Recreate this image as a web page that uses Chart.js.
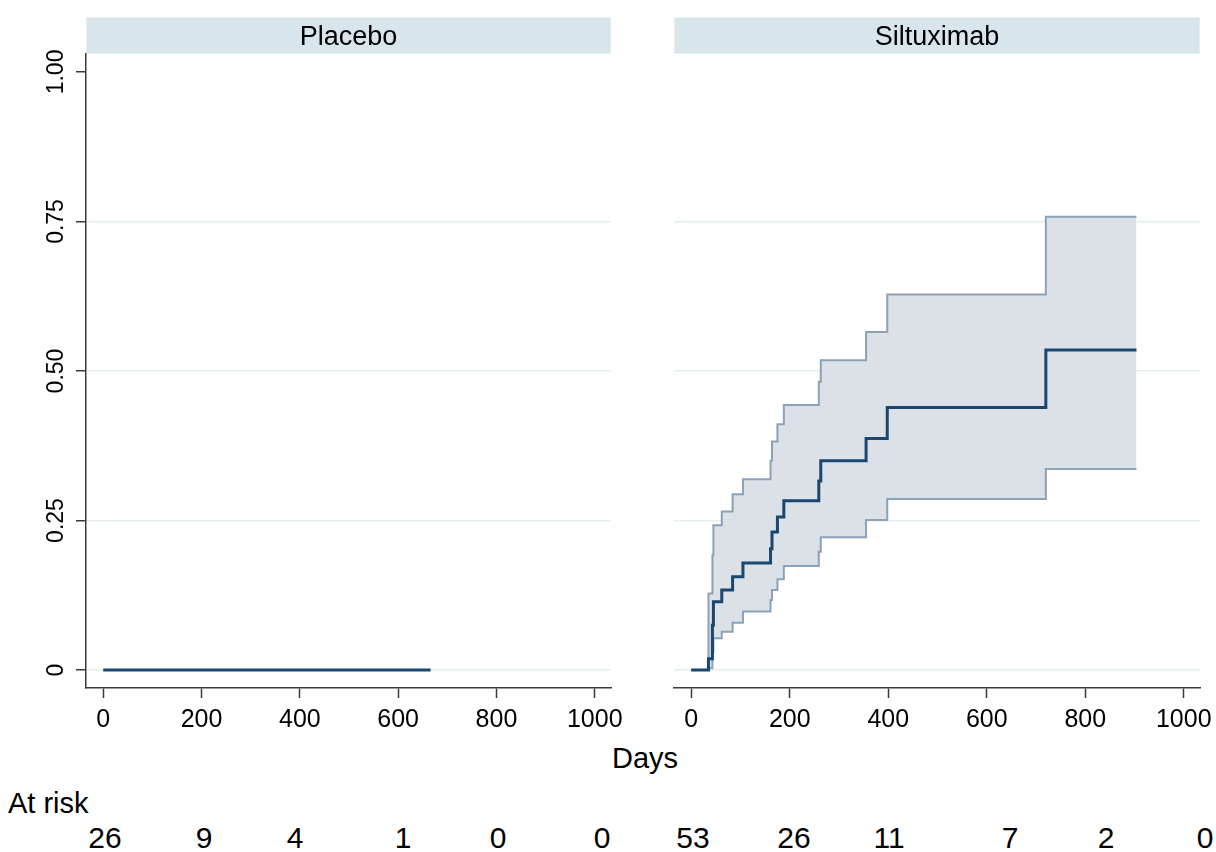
<!DOCTYPE html>
<html>
<head>
<meta charset="utf-8">
<script src="https://cdn.jsdelivr.net/npm/chart.js@4/dist/chart.umd.min.js"></script>
<style>
  html, body { margin: 0; padding: 0; background: #fff; }
  #page { position: relative; width: 1216px; height: 852px; overflow: hidden; font-family: "Liberation Sans", Arial, sans-serif; color: #000; }
  canvas { position: absolute; top: 0; }
  .txt { position: absolute; white-space: nowrap; line-height: 1; }
</style>
</head>
<body>
<div id="page">
  <canvas id="placebo" width="650" height="740" style="left:0"></canvas>
  <canvas id="siltuximab" width="600" height="740" style="left:640px"></canvas>
  <div id="overlay"></div>
</div>
<script>
// Kaplan-Meier failure estimates (time in days)
const panelTitles = ['Placebo', 'Siltuximab'];

const placeboDays = [0, 666];
const placeboFailure = [0, 0];

const siltuximabDays    = [0, 35, 43, 45, 62, 84, 105, 161, 164, 175, 188, 259, 263, 355, 398, 720, 904];
const siltuximabFailure = [0, 0.019, 0.075, 0.114, 0.134, 0.156, 0.179, 0.203, 0.231, 0.256, 0.283, 0.316, 0.350, 0.387, 0.439, 0.535, 0.535];
const siltuximabUpper   = [0, 0.128, 0.192, 0.242, 0.265, 0.294, 0.319, 0.350, 0.382, 0.411, 0.443, 0.482, 0.518, 0.565, 0.628, 0.758, 0.758];
const siltuximabLower   = [0, 0.003, 0.030, 0.053, 0.064, 0.079, 0.098, 0.117, 0.134, 0.152, 0.174, 0.198, 0.222, 0.251, 0.286, 0.336, 0.336];

const xTicks = [0, 200, 400, 600, 800, 1000];
const yTicks = [0, 0.25, 0.5, 0.75, 1];
const yTickLabels = ['0', '0.25', '0.50', '0.75', '1.00'];

const atRiskPlacebo = [26, 9, 4, 1, 0, 0];
const atRiskSiltuximab = [53, 26, 11, 7, 2, 0];

// ---- styling / layout ----
const FONT = '"Liberation Sans", Arial, sans-serif';
const NAVY = '#1a476f';
const CI_LINE = '#8ba1b7';
const CI_FILL = '#dce1e8';
const GRID = '#e4edf0';
const AXIS = '#3a3a3a';
const STRIP_BG = '#d8e5ea';

const toXY = (xs, ys) => xs.map((x, i) => ({ x, y: ys[i] }));

// Facet header strip above each panel
const stripPlugin = {
  id: 'strip',
  beforeDraw(chart, args, opts) {
    const { ctx, chartArea } = chart;
    ctx.save();
    ctx.fillStyle = STRIP_BG;
    ctx.fillRect(chartArea.left, 17, chartArea.right - chartArea.left, 37);
    ctx.strokeStyle = '#e9f0f3';
    ctx.lineWidth = 1;
    ctx.strokeRect(chartArea.left + 0.5, 17.5, chartArea.right - chartArea.left - 1, 36);
    ctx.fillStyle = '#000';
    ctx.font = '27px ' + FONT;
    ctx.textAlign = 'center';
    ctx.textBaseline = 'alphabetic';
    ctx.fillText(opts.title, (chartArea.left + chartArea.right) / 2, 45);
    ctx.restore();
  }
};

// Vertical (rotated) y tick labels on the left panel
const yLabelPlugin = {
  id: 'ylabels',
  afterDraw(chart, args, opts) {
    if (!opts.show) return;
    const { ctx } = chart;
    const y = chart.scales.y;
    ctx.save();
    ctx.fillStyle = '#000';
    ctx.font = '23px ' + FONT;
    ctx.textAlign = 'center';
    ctx.textBaseline = 'alphabetic';
    yTicks.forEach((v, i) => {
      ctx.save();
      ctx.translate(63, y.getPixelForValue(v));
      ctx.rotate(-Math.PI / 2);
      ctx.fillText(yTickLabels[i], 0, 0);
      ctx.restore();
    });
    ctx.restore();
  }
};

function panelOptions(title, isLeft) {
  return {
    responsive: false,
    animation: false,
    devicePixelRatio: 1,
    layout: { padding: { top: 54, right: isLeft ? 39 : 40, left: 0, bottom: 0 } },
    plugins: {
      legend: { display: false },
      tooltip: { enabled: false },
      filler: { drawTime: 'beforeDatasetsDraw' },
      strip: { title },
      ylabels: { show: isLeft }
    },
    elements: { point: { radius: 0 } },
    scales: {
      x: {
        type: 'linear',
        min: -35,
        max: 1033,
        afterBuildTicks(s) { s.ticks = xTicks.map(v => ({ value: v })); },
        afterFit(s) { s.height = 52; },
        grid: { drawOnChartArea: false, drawTicks: true, tickLength: 10, tickColor: AXIS, tickWidth: 1.5 },
        border: { display: true, color: AXIS, width: 1.5 },
        ticks: {
          color: '#000',
          font: { family: FONT, size: 25 },
          padding: 7,
          maxRotation: 0,
          autoSkip: false,
          callback: v => String(v)
        }
      },
      y: {
        type: 'linear',
        min: -0.03,
        max: 1.03,
        afterBuildTicks(s) { s.ticks = yTicks.map(v => ({ value: v })); },
        afterFit(s) { s.width = isLeft ? 86 : 34; },
        grid: {
          color: c => (c.tick && c.tick.value === 1) ? 'rgba(0,0,0,0)' : GRID,
          lineWidth: 1.5,
          drawTicks: isLeft,
          tickLength: 10,
          tickColor: AXIS,
          tickWidth: 1.5
        },
        border: { display: isLeft, color: AXIS, width: 1.5 },
        ticks: { color: 'rgba(0,0,0,0)', font: { family: FONT, size: 1 }, padding: 0 }
      }
    }
  };
}

new Chart(document.getElementById('placebo'), {
  type: 'line',
  data: {
    datasets: [{
      data: toXY(placeboDays, placeboFailure),
      borderColor: NAVY,
      borderWidth: 3,
      stepped: true,
      fill: false
    }]
  },
  options: panelOptions(panelTitles[0], true),
  plugins: [stripPlugin, yLabelPlugin]
});

new Chart(document.getElementById('siltuximab'), {
  type: 'line',
  data: {
    datasets: [
      { // failure estimate (drawn on top)
        data: toXY(siltuximabDays, siltuximabFailure),
        borderColor: NAVY,
        borderWidth: 3,
        stepped: true,
        fill: false
      },
      { // upper 95% confidence bound, shaded down to the lower bound
        data: toXY(siltuximabDays, siltuximabUpper),
        borderColor: CI_LINE,
        borderWidth: 2,
        stepped: true,
        fill: { target: 2 },
        backgroundColor: CI_FILL
      },
      { // lower 95% confidence bound
        data: toXY(siltuximabDays, siltuximabLower),
        borderColor: CI_LINE,
        borderWidth: 2,
        stepped: true,
        fill: false
      }
    ]
  },
  options: panelOptions(panelTitles[1], false),
  plugins: [stripPlugin, yLabelPlugin]
});

// Axis title and number-at-risk table
const overlay = document.getElementById('overlay');
function addText(str, x, top, size, alignLeft) {
  const d = document.createElement('div');
  d.className = 'txt';
  d.textContent = str;
  d.style.fontSize = size + 'px';
  d.style.top = top + 'px';
  d.style.left = x + 'px';
  if (!alignLeft) d.style.transform = 'translateX(-50%)';
  overlay.appendChild(d);
}
addText('Days', 645, 744, 29);
addText('At risk', 8, 789, 29, true);
const riskPosPlacebo = [105, 204, 295, 403, 498, 602];
const riskPosSiltuximab = [693, 794, 889, 1010, 1106, 1205];
atRiskPlacebo.forEach((n, i) => addText(String(n), riskPosPlacebo[i], 823, 30));
atRiskSiltuximab.forEach((n, i) => addText(String(n), riskPosSiltuximab[i], 823, 30));
</script>
</body>
</html>
